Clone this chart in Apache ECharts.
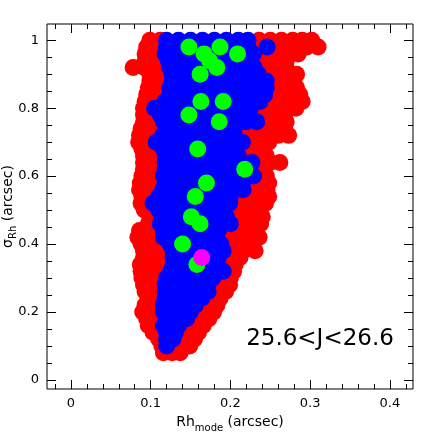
<!DOCTYPE html>
<html>
<head>
<meta charset="utf-8">
<title>Rh mode vs sigma</title>
<script src="https://cdn.jsdelivr.net/npm/echarts@6/dist/echarts.min.js"></script>
<style>
  html, body { margin: 0; padding: 0; background: #fff; }
  #chart { width: 436px; height: 436px; }
</style>
</head>
<body>
<div id="chart"></div>
<script>
// tick positions / labels
var xMajorTicks = [0, 0.1, 0.2, 0.3, 0.4];
var xMinorTicks = [-0.02, 0.02, 0.04, 0.06, 0.08, 0.12, 0.14, 0.16, 0.18, 0.22, 0.24, 0.26, 0.28, 0.32, 0.34, 0.36, 0.38, 0.42];
var yMajorTicks = [0, 0.2, 0.4, 0.6, 0.8, 1];
var yMinorTicks = [0.05, 0.1, 0.15, 0.25, 0.3, 0.35, 0.45, 0.5, 0.55, 0.65, 0.7, 0.75, 0.85, 0.9, 0.95];

// red points, one row per sigma value: [sigma, [Rh values]]
var redRows = [
  [1.00, [0.099, 0.112, 0.236, 0.250, 0.264, 0.278, 0.290, 0.302]],
  [0.98, [0.095, 0.108, 0.234, 0.258, 0.270, 0.283, 0.296, 0.310]],
  [0.96, [0.093, 0.106, 0.240, 0.254, 0.268, 0.285]],
  [0.94, [0.093, 0.108, 0.238, 0.252, 0.270]],
  [0.92, [0.078, 0.092, 0.106, 0.242, 0.256, 0.270]],
  [0.90, [0.099, 0.112, 0.248, 0.262, 0.272, 0.283]],
  [0.88, [0.099, 0.112, 0.256, 0.268, 0.279]],
  [0.86, [0.097, 0.110, 0.256, 0.270, 0.283]],
  [0.84, [0.095, 0.108, 0.254, 0.270, 0.287]],
  [0.82, [0.093, 0.106, 0.250, 0.264, 0.277, 0.290]],
  [0.80, [0.091, 0.238, 0.252, 0.266, 0.282]],
  [0.78, [0.091, 0.103, 0.232, 0.246, 0.258, 0.268]],
  [0.76, [0.091, 0.104, 0.246, 0.258, 0.270]],
  [0.74, [0.088, 0.102, 0.114, 0.218, 0.232, 0.246, 0.258, 0.268]],
  [0.72, [0.086, 0.100, 0.218, 0.232, 0.246, 0.260, 0.273]],
  [0.70, [0.085, 0.097, 0.228, 0.240, 0.248]],
  [0.68, [0.089, 0.102, 0.218, 0.230, 0.242]],
  [0.66, [0.091, 0.104, 0.222, 0.234, 0.245]],
  [0.64, [0.091, 0.104, 0.238, 0.250, 0.262]],
  [0.62, [0.091, 0.104, 0.232, 0.241]],
  [0.60, [0.089, 0.102, 0.240, 0.245]],
  [0.58, [0.087, 0.102, 0.226, 0.238, 0.248]],
  [0.56, [0.086, 0.100, 0.228, 0.238, 0.246]],
  [0.54, [0.089, 0.100, 0.212, 0.224, 0.236, 0.248]],
  [0.52, [0.088, 0.212, 0.224, 0.234, 0.244]],
  [0.50, [0.092, 0.100, 0.202, 0.214, 0.226, 0.236]],
  [0.48, [0.099, 0.105, 0.207, 0.219, 0.230, 0.240]],
  [0.46, [0.097, 0.104, 0.212, 0.226, 0.238]],
  [0.44, [0.086, 0.100, 0.110, 0.197, 0.209, 0.221, 0.231]],
  [0.42, [0.084, 0.098, 0.108, 0.195, 0.208, 0.222, 0.236]],
  [0.40, [0.088, 0.102, 0.114, 0.200, 0.212, 0.222]],
  [0.38, [0.091, 0.104, 0.116, 0.203, 0.216, 0.231]],
  [0.36, [0.091, 0.104, 0.116, 0.197, 0.206, 0.212]],
  [0.34, [0.087, 0.101, 0.115, 0.192, 0.206]],
  [0.32, [0.088, 0.101, 0.113, 0.198, 0.204]],
  [0.30, [0.089, 0.100, 0.110, 0.190, 0.200]],
  [0.28, [0.091, 0.104, 0.184, 0.192, 0.199]],
  [0.26, [0.093, 0.106, 0.184, 0.194]],
  [0.24, [0.097, 0.106, 0.176, 0.187]],
  [0.22, [0.093, 0.104, 0.168, 0.176, 0.183]],
  [0.20, [0.090, 0.103, 0.162, 0.171, 0.179]],
  [0.18, [0.095, 0.107, 0.157, 0.166, 0.173]],
  [0.16, [0.097, 0.106, 0.147, 0.157, 0.166]],
  [0.14, [0.103, 0.110, 0.143, 0.152, 0.160]],
  [0.12, [0.110, 0.140, 0.148, 0.155]],
  [0.10, [0.114, 0.130, 0.140, 0.149]],
  [0.08, [0.116, 0.127, 0.137]]
];

// blue points
var blueRows = [
  [1.00, [0.120, 0.135, 0.150, 0.165, 0.180, 0.195, 0.210, 0.222]],
  [0.98, [0.120, 0.135, 0.150, 0.165, 0.180, 0.195, 0.210, 0.222, 0.246]],
  [0.96, [0.118, 0.133, 0.148, 0.163, 0.178, 0.193, 0.208, 0.220, 0.229]],
  [0.94, [0.122, 0.137, 0.152, 0.167, 0.182, 0.197, 0.212, 0.225]],
  [0.92, [0.124, 0.139, 0.154, 0.169, 0.184, 0.199, 0.214, 0.230]],
  [0.90, [0.127, 0.142, 0.157, 0.172, 0.187, 0.202, 0.217, 0.235]],
  [0.88, [0.127, 0.142, 0.157, 0.172, 0.187, 0.202, 0.217, 0.232, 0.245]],
  [0.86, [0.124, 0.139, 0.154, 0.169, 0.184, 0.199, 0.214, 0.229, 0.245]],
  [0.84, [0.124, 0.139, 0.154, 0.169, 0.184, 0.199, 0.214, 0.229, 0.243]],
  [0.82, [0.118, 0.133, 0.148, 0.163, 0.178, 0.193, 0.208, 0.223, 0.237]],
  [0.80, [0.105, 0.120, 0.135, 0.150, 0.165, 0.180, 0.195, 0.210, 0.225]],
  [0.78, [0.112, 0.127, 0.142, 0.157, 0.172, 0.187, 0.202, 0.220]],
  [0.76, [0.116, 0.131, 0.146, 0.161, 0.176, 0.191, 0.206, 0.220, 0.233]],
  [0.74, [0.120, 0.135, 0.150, 0.165, 0.180, 0.195, 0.205]],
  [0.72, [0.115, 0.130, 0.145, 0.160, 0.175, 0.190, 0.205]],
  [0.70, [0.107, 0.122, 0.137, 0.152, 0.167, 0.182, 0.197, 0.215]],
  [0.68, [0.116, 0.131, 0.146, 0.161, 0.176, 0.191, 0.205]],
  [0.66, [0.118, 0.133, 0.148, 0.163, 0.178, 0.193, 0.210]],
  [0.64, [0.118, 0.133, 0.148, 0.163, 0.178, 0.193, 0.208, 0.227]],
  [0.62, [0.118, 0.133, 0.148, 0.163, 0.178, 0.193, 0.208, 0.220]],
  [0.60, [0.116, 0.131, 0.146, 0.161, 0.176, 0.191, 0.206, 0.218, 0.229]],
  [0.58, [0.118, 0.133, 0.148, 0.163, 0.178, 0.193, 0.205, 0.215]],
  [0.56, [0.115, 0.130, 0.145, 0.160, 0.175, 0.190, 0.204, 0.216]],
  [0.54, [0.110, 0.125, 0.140, 0.155, 0.170, 0.185, 0.200]],
  [0.52, [0.103, 0.118, 0.133, 0.148, 0.163, 0.178, 0.190, 0.199]],
  [0.50, [0.110, 0.125, 0.140, 0.155, 0.170, 0.182, 0.190]],
  [0.48, [0.114, 0.129, 0.144, 0.159, 0.174, 0.186, 0.195]],
  [0.46, [0.112, 0.127, 0.142, 0.157, 0.172, 0.187, 0.200]],
  [0.44, [0.116, 0.131, 0.146, 0.161, 0.174, 0.185]],
  [0.42, [0.116, 0.131, 0.146, 0.161, 0.172, 0.183]],
  [0.40, [0.124, 0.139, 0.154, 0.169, 0.180, 0.188]],
  [0.38, [0.128, 0.143, 0.158, 0.172, 0.184, 0.191]],
  [0.36, [0.128, 0.143, 0.158, 0.172, 0.185]],
  [0.34, [0.128, 0.143, 0.158, 0.170, 0.180]],
  [0.32, [0.125, 0.140, 0.155, 0.168, 0.180, 0.191]],
  [0.30, [0.120, 0.135, 0.150, 0.165, 0.178]],
  [0.28, [0.118, 0.133, 0.148, 0.160, 0.172]],
  [0.26, [0.118, 0.133, 0.148, 0.160, 0.172]],
  [0.24, [0.118, 0.133, 0.148, 0.164]],
  [0.22, [0.116, 0.131, 0.144, 0.156]],
  [0.20, [0.116, 0.129, 0.140, 0.150]],
  [0.18, [0.120, 0.132, 0.145]],
  [0.16, [0.116, 0.126, 0.135]],
  [0.14, [0.120, 0.131]],
  [0.12, [0.120, 0.128]],
  [0.10, [0.120]]
];

// green points [Rh, sigma]
var greenPts = [
  [0.148, 0.98], [0.187, 0.98], [0.209, 0.96], [0.167, 0.96], [0.174, 0.94],
  [0.183, 0.92], [0.162, 0.90], [0.163, 0.82], [0.191, 0.82], [0.148, 0.78],
  [0.186, 0.76], [0.159, 0.68], [0.218, 0.62], [0.170, 0.58], [0.156, 0.54],
  [0.151, 0.48], [0.162, 0.46], [0.140, 0.40], [0.158, 0.34]
];

// magenta point
var magentaPts = [[0.164, 0.36]];

var labelText = '25.6<J<26.6';

function rowsToPts(rows) {
  var out = [];
  rows.forEach(function (r) {
    r[1].forEach(function (x) { out.push([x, r[0]]); });
  });
  return out;
}

var FONT = 'DejaVu Sans';

function xAx(pos, ticks, len, main) {
  return {
    type: 'value', position: pos, min: -0.03, max: 0.429,
    axisLine: { show: false, onZero: false },
    splitLine: { show: false },
    axisTick: { show: true, inside: true, length: len, customValues: ticks, lineStyle: { color: '#000', width: 1 } },
    axisLabel: main ? { show: true, customValues: ticks, color: '#000', fontFamily: FONT, fontSize: 13, margin: 8 } : { show: false },
    name: main ? '{a|Rh}{b|mode}{a| (arcsec)}' : '',
    nameLocation: 'middle',
    nameGap: 24,
    nameTextStyle: {
      rich: {
        a: { fontFamily: FONT, fontSize: 14, color: '#000', verticalAlign: 'top', padding: [0, 0, 5, 0] },
        b: { fontFamily: FONT, fontSize: 10, color: '#000', verticalAlign: 'bottom' }
      }
    }
  };
}

function yAx(pos, ticks, len, main) {
  return {
    type: 'value', position: pos, min: -0.027, max: 1.048,
    axisLine: { show: false, onZero: false },
    splitLine: { show: false },
    axisTick: { show: true, inside: true, length: len, customValues: ticks, lineStyle: { color: '#000', width: 1 } },
    axisLabel: main ? { show: true, customValues: ticks, color: '#000', fontFamily: FONT, fontSize: 13, margin: 8 } : { show: false },
    name: main ? '{a|σ}{b|Rh}{a| (arcsec)}' : '',
    nameLocation: 'middle',
    nameRotate: 90,
    nameGap: 29,
    nameMoveOverlap: false,
    nameTextStyle: {
      rich: {
        a: { fontFamily: FONT, fontSize: 14, color: '#000', verticalAlign: 'top', padding: [0, 0, 3, 0] },
        b: { fontFamily: FONT, fontSize: 10, color: '#000', verticalAlign: 'bottom' }
      }
    }
  };
}

var chart = echarts.init(document.getElementById('chart'));

function dots(name, color, data) {
  return {
    name: name, type: 'scatter', xAxisIndex: 0, yAxisIndex: 0,
    symbol: 'circle', symbolSize: 17,
    itemStyle: { color: color, opacity: 1 },
    data: data, silent: true
  };
}

chart.setOption({
  animation: false,
  backgroundColor: '#fff',
  grid: {
    left: 47, right: 23, top: 24, bottom: 47,
    containLabel: false, outerBoundsMode: 'none',
    show: true, borderColor: '#000', borderWidth: 1, backgroundColor: 'transparent'
  },
  xAxis: [
    xAx('bottom', xMajorTicks, 9, true),
    xAx('bottom', xMinorTicks, 5, false),
    xAx('top', xMajorTicks, 9, false),
    xAx('top', xMinorTicks, 5, false)
  ],
  yAxis: [
    yAx('left', yMajorTicks, 9, true),
    yAx('left', yMinorTicks, 5, false),
    yAx('right', yMajorTicks, 9, false),
    yAx('right', yMinorTicks, 5, false)
  ],
  graphic: [{
    type: 'text', x: 320, y: 339, z: 100,
    style: { text: labelText, fontFamily: FONT, fontSize: 23, fill: '#000', align: 'center', verticalAlign: 'middle' }
  }],
  series: [
    dots('red', '#ff0000', rowsToPts(redRows)),
    dots('blue', '#0000ff', rowsToPts(blueRows)),
    dots('green', '#00ff00', greenPts),
    dots('magenta', '#ff00ff', magentaPts)
  ]
});
</script>
</body>
</html>
